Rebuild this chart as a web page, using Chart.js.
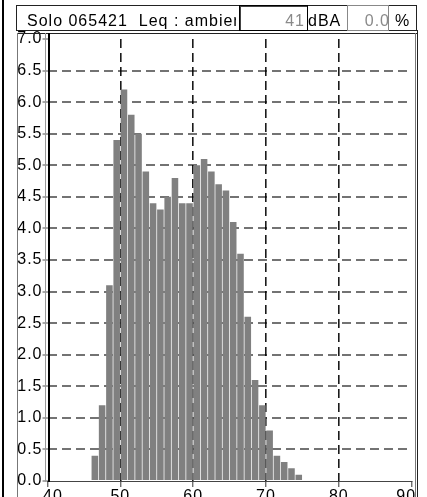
<!DOCTYPE html>
<html><head><meta charset="utf-8">
<script src="https://cdn.jsdelivr.net/npm/chart.js@4/dist/chart.umd.min.js"></script>
<style>
html,body{margin:0;padding:0;width:427px;height:497px;overflow:hidden;background:#fff;}
#wrap{position:relative;width:427px;height:497px;overflow:hidden;font-family:"Liberation Sans",Arial,sans-serif;}
canvas{position:absolute;left:0;top:0;}
.ln{position:absolute;}
.t{position:absolute;font-size:16px;letter-spacing:1px;line-height:18px;white-space:pre;}
.box{position:absolute;box-sizing:border-box;overflow:hidden;}
</style>
</head><body>
<div id="wrap">
<canvas id="c" width="427" height="512" style="width:427px;height:512px"></canvas>
<div class="ln" style="left:416px;top:482px;width:11px;height:15px;background:#fff"></div>
<div class="ln" style="left:2px;top:0;width:2px;height:497px;background:#000"></div>
<div class="box" style="left:16px;top:5px;width:401px;height:26px;border:1px solid #222"></div>
<div class="box" style="left:27px;top:12px;width:209px;height:19px;">
  <span class="t" style="left:0;top:0;color:#000">Solo 065421  Leq : ambient</span>
</div>
<div class="box" style="left:239px;top:5px;width:69px;height:26px;border:1px solid #000;box-shadow:inset 1px 1px #444">
  <span class="t" style="right:2px;top:6px;color:#8a8a8a">41</span>
</div>
<span class="t" style="left:308px;top:12px;color:#000">dBA</span>
<div class="box" style="left:347px;top:5px;width:42px;height:26px;border:1px solid #888">
  <span class="t" style="right:-2px;top:6px;color:#8a8a8a">0.0</span>
</div>
<span class="t" style="left:395px;top:12px;color:#000">%</span>
<div class="ln" style="left:17px;top:33px;width:400px;height:1px;background:#222"></div>
<div class="ln" style="left:17px;top:33px;width:1px;height:464px;background:#777"></div>
<div class="ln" style="left:45px;top:33px;width:1px;height:449px;background:#999"></div>
<div class="ln" style="left:48px;top:33px;width:2px;height:449px;background:#000"></div>
<div class="ln" style="left:415px;top:33px;width:1px;height:464px;background:#777"></div>
<div class="ln" style="left:417px;top:30px;width:1px;height:467px;background:#222"></div>
</div>
<script>
// Data (level in dB -> percentage)
const levels   = [46,47,48,49,50,51,52,53,54,55,56,57,58,59,60,61,62,63,64,65,66,67,68,69,70,71,72,73,74];
const percents = [0.4,1.2,3.1,5.4,6.2,5.8,5.5,4.9,4.4,4.3,4.5,4.8,4.4,4.4,5.0,5.1,4.9,4.7,4.6,4.1,3.6,2.6,1.6,1.2,0.8,0.4,0.3,0.2,0.1];
const xTicks   = [40,50,60,70,80,90];
const yTicks   = [0,0.5,1,1.5,2,2.5,3,3.5,4,4.5,5,5.5,6,6.5,7];

const spacing = {
  id:'spacing',
  beforeLayout(chart){ chart.ctx.letterSpacing='1px'; },
  beforeDraw(chart){ chart.ctx.letterSpacing='1px'; }
};

new Chart(document.getElementById('c'), {
  type:'bar',
  data:{ datasets:[{
    data: levels.map((l,i)=>({x:l+0.5, y:percents[i]})),
    backgroundColor:'#808080',
    borderWidth:0,
    barPercentage:0.9,
    categoryPercentage:1
  }]},
  options:{
    responsive:false, animation:false, devicePixelRatio:1,
    layout:{padding:{top:39,right:12,left:0,bottom:0}},
    plugins:{legend:{display:false},tooltip:{enabled:false},title:{display:false}},
    scales:{
      x:{
        type:'linear', min:xTicks[0], max:xTicks[xTicks.length-1], z:1, offset:false,
        afterBuildTicks(s){ s.ticks = xTicks.map(v=>({value:v})); },
        afterFit(s){ s.height = 512-481; },
        ticks:{
          autoSkip:false, maxRotation:0, minRotation:0, padding:0, color:'#000',
          font:{family:'"Liberation Sans", Arial, sans-serif', size:16},
          callback:(v)=> v===40 ? '\u00a0\u00a040' : (v===90 ? '90\u00a0\u00a0' : String(v))
        },
        grid:{
          offset:false,
          color:(c)=> (c.tick && (c.tick.value===40 || c.tick.value===90)) ? 'rgba(0,0,0,0)' : '#1a1a1a',
          lineWidth:1.6, tickLength:6, tickColor:'#333', tickWidth:1, tickBorderDash:[]
        },
        border:{display:true, color:'#444', width:1, dash:[9,5]}
      },
      y:{
        type:'linear', min:0, max:7, z:1,
        afterBuildTicks(s){ s.ticks = yTicks.map(v=>({value:v})); },
        afterFit(s){ s.width = 47.5; },
        ticks:{
          autoSkip:false, padding:0, color:'#000',
          font:{family:'"Liberation Sans", Arial, sans-serif', size:16},
          callback:(v)=> Number(v).toFixed(1)
        },
        grid:{
          color:(c)=> (c.tick && (c.tick.value===0 || c.tick.value===7)) ? 'rgba(0,0,0,0)' : 'rgba(0,0,0,0.55)',
          lineWidth:2, tickLength:5, tickColor:'#555', tickWidth:1, tickBorderDash:[]
        },
        border:{display:false, dash:[9,5]}
      }
    }
  },
  plugins:[spacing]
});
</script>
</body></html>
